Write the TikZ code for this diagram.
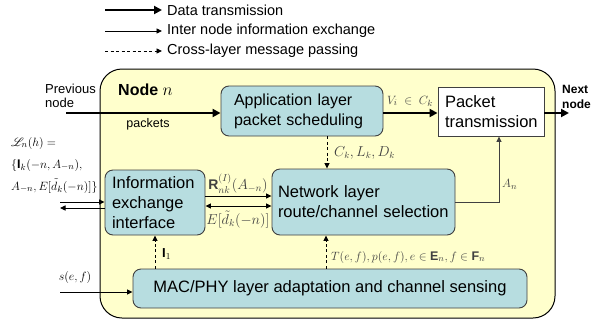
\documentclass[tikz,border=0pt]{standalone}
\usepackage{fontspec}
\setmainfont{Liberation Sans}
\usepackage{amsmath,amssymb}
\usepackage{mathrsfs}
\usetikzlibrary{arrows.meta,calc}

\definecolor{nodebg}{HTML}{FFFFCC}
\definecolor{layerbg}{HTML}{B7DDE0}
\definecolor{edgecol}{HTML}{404040}

\tikzset{
  layer/.style={draw=edgecol, fill=layerbg, rounded corners=8pt, line width=0.9pt,
    align=left, font=\fontsize{16.5}{20}\selectfont, inner ysep=0pt},
  datalink/.style={line width=2.6pt, -{Triangle[length=8pt,width=8pt]}},
  infolink/.style={line width=0.9pt, -{Triangle[length=5.5pt,width=5pt]}},
  infoboth/.style={line width=0.9pt, {Triangle[length=5.5pt,width=5pt]}-{Triangle[length=5.5pt,width=5pt]}},
  msglink/.style={line width=0.9pt, dash pattern=on 3pt off 2.5pt, -{Triangle[length=5.5pt,width=5pt]}},
  mlbl/.style={font=\fontsize{12.5}{14}\selectfont, text=black!75, inner sep=1pt},
  legtxt/.style={font=\fontsize{14.5}{16}\selectfont, anchor=west, inner sep=0pt},
  plain/.style={font=\fontsize{13}{14}\selectfont, inner sep=0pt}
}

\begin{document}
\begin{tikzpicture}[x=1pt,y=-1pt]
\useasboundingbox (0,0) rectangle (600,322);

% legend
\coordinate (l1a) at (105,10);  \coordinate (l1b) at (162,10);
\coordinate (l2a) at (105,31);  \coordinate (l2b) at (162,31);
\coordinate (l3a) at (105,51);  \coordinate (l3b) at (162,51);
\draw[datalink] (l1a) -- (l1b);
\draw[infolink] (l2a) -- (l2b);
\draw[msglink] (l3a) -- (l3b);
\node[legtxt] (t1) at (167,10) {Data transmission};
\node[legtxt] (t2) at (167,31) {Inter node information exchange};
\node[legtxt] (t3) at (167,51) {Cross-layer message passing};

% node frame
\node[draw=black, line width=1pt, fill=nodebg, rounded corners=22pt,
      minimum width=455pt, minimum height=249pt, inner sep=0pt] (frame) at (327.5,193.5) {};
\node[anchor=west, inner sep=0pt, font=\fontsize{16}{18}\selectfont\bfseries] (title) at (118,90) {Node $n$};

% layer boxes
\node[layer, font=\fontsize{16}{20}\selectfont, minimum width=162pt, minimum height=50pt,
      text width=136pt, inner xsep=13pt]
  (app) at (302,111) {Application layer\\packet scheduling};
\node[draw=edgecol, fill=white, line width=0.9pt, minimum width=106pt, minimum height=49pt,
      text width=92pt, inner xsep=7pt, inner ysep=0pt, align=left, font=\fontsize{16.5}{20}\selectfont]
  (pkt) at (491,111.5) {Packet\\transmission};
\node[layer, minimum width=183pt, minimum height=66pt, text width=171pt, inner xsep=6pt]
  (net) at (363.5,202) {Network layer\\route/channel selection};
\node[layer, minimum width=100pt, minimum height=65pt, text width=86pt, inner xsep=7pt]
  (info) at (155,202.5) {Information\\exchange\\interface};
\node[layer, align=center, minimum width=394pt, minimum height=39pt]
  (mac) at (330,288.5) {MAC/PHY layer adaptation and channel sensing};

% data path
\coordinate (prev) at (66,113);
\coordinate (next) at (569,113);
\draw[datalink] (prev) -- (prev -| app.west);
\draw[datalink] ([yshift=-2pt]app.east) -- ([yshift=-2pt]app.east -| pkt.west);
\draw[datalink] (next -| pkt.east) -- (next);
\node[plain, anchor=west, align=left] (prevtxt) at (45,96) {Previous\\node};
\node[plain, anchor=west, align=left, font=\fontsize{12}{14.5}\selectfont\bfseries] (nexttxt) at (562,97) {Next\\node};
\node[plain, font=\fontsize{12.5}{14}\selectfont] (pkts) at (148,124) {packets};
\node[mlbl, font=\fontsize{13}{14}\selectfont] (vlbl) at (410,101) {$V_i \;\in\; C_k$};

% cross-layer messages
\draw[msglink] ([xshift=25pt]app.south) -- ([xshift=25pt]app.south |- net.north);
\node[mlbl, anchor=west, font=\fontsize{13.5}{14}\selectfont] (clbl) at (333,153) {$C_k, L_k, D_k$};

\draw[msglink] (info.south |- mac.north) -- (info.south);
\node[mlbl, anchor=west, text=black, font=\fontsize{13}{14}\selectfont] (ilbl) at (161,254) {$\mathbf{I}_1$};

\draw[msglink] ([xshift=-37.5pt]net.south |- mac.north) -- ([xshift=-37.5pt]net.south);
\node[mlbl, anchor=west] (tlbl) at (330,257) {$T(e,f), p(e,f), e \in \mathbf{E}_n, f \in \mathbf{F}_n$};

% information exchange between interface and network layer
\draw[infolink] ([yshift=6.5pt]info.east) -- ([yshift=6.5pt]info.east -| net.west);
\draw[infoboth] ([yshift=-3.5pt]info.east) -- ([yshift=-3.5pt]info.east -| net.west);
\node[mlbl, font=\fontsize{14}{15}\selectfont] (rlbl) at (238,184) {$\mathbf{R}^{(I)}_{nk}(A_{-n})$};
\node[mlbl, font=\fontsize{14}{15}\selectfont] (elbl) at (238,219.5) {$E[\tilde{d}_k(-n)]$};

% routing decision to packet transmission
\draw[line width=0.9pt, draw=edgecol, -{Triangle[length=5.5pt,width=5pt]}]
  (net.east) -| ([xshift=8pt]pkt.south);
\node[mlbl, anchor=west] (albl) at (501,184) {$A_n$};

% exchange with neighbouring nodes
\coordinate (inA) at (60,202);
\coordinate (outA) at (60,208);
\draw[infolink] (inA) -- (inA -| info.west);
\draw[infolink] (outA -| info.west) -- (outA);
\node[mlbl, anchor=west, text=black] (L1) at (10,143) {$\mathscr{L}_n(h) =$};
\node[mlbl, anchor=west, text=black] (L2) at (10,165) {$\{\mathbf{I}_k(-n, A_{-n}),$};
\node[mlbl, anchor=west, text=black] (L3) at (10,186) {$A_{-n}, E[\tilde{d}_k(-n)]\}$};

% channel sensing input
\coordinate (sin) at (60,292);
\draw[infolink] (sin) -- (sin -| mac.west);
\node[mlbl, text=black, font=\fontsize{13}{14}\selectfont] (slbl) at (75,277) {$s(e,f)$};
\end{tikzpicture}
\end{document}
